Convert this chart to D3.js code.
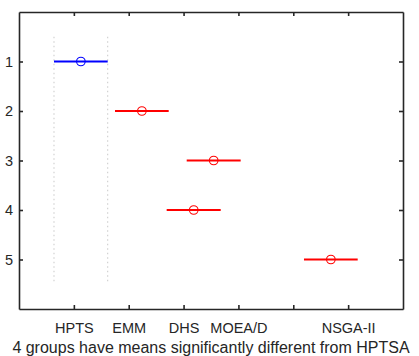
<!DOCTYPE html>
<html>
<head>
<meta charset="utf-8">
<script src="https://cdn.jsdelivr.net/npm/d3@7"></script>
<style>
  body { margin: 0; background: #fff; }
  text { font-family: "Liberation Sans", Arial, sans-serif; fill: #262626; }
</style>
</head>
<body>
<div id="chart"></div>
<script>
/* DATA */
const groups = [1, 2, 3, 4, 5];
const groupMeans = [1.128, 2.24, 3.549, 3.185, 5.685];
const ciLower = [0.638, 1.75, 3.057, 2.692, 5.195];
const ciUpper = [1.617, 2.729, 4.041, 3.677, 6.174];
const groupColors = ["#0000ff", "#ff0000", "#ff0000", "#ff0000", "#ff0000"];
const xTickValues = [1, 2, 3, 4, 5, 6];
const xTickLabels = ["HPTS", "EMM", "DHS", "MOEA/D", "", "NSGA-II"];
const xTitle = "4 groups have means significantly different from HPTSA";

/* CONSTANTS */
const width = 419;
const height = 356;
const margin = { top: 12, right: 16, bottom: 47, left: 19 };
const axisColor = "#262626";

const svg = d3.select("#chart")
  .append("svg")
  .attr("width", width)
  .attr("height", height);

// SCALES
const xScale = d3.scaleLinear()
  .domain([0, 7])
  .range([margin.left, width - margin.right]);

const yScale = d3.scaleLinear()
  .domain([0, 6])
  .range([margin.top, height - margin.bottom]);

// AXES (ticks point inward, like MATLAB)
const xAxisBottom = svg.append("g")
  .attr("transform", `translate(0, ${yScale(6)})`)
  .call(d3.axisBottom(xScale)
    .tickValues(xTickValues)
    .tickFormat((d, i) => xTickLabels[i])
    .tickSizeInner(-4)
    .tickSizeOuter(0)
    .tickPadding(13.5));

const xAxisTop = svg.append("g")
  .attr("transform", `translate(0, ${yScale(0)})`)
  .call(d3.axisTop(xScale)
    .tickValues(xTickValues)
    .tickFormat("")
    .tickSizeInner(-4)
    .tickSizeOuter(0));

const yAxisLeft = svg.append("g")
  .attr("transform", `translate(${xScale(0)}, 0)`)
  .call(d3.axisLeft(yScale)
    .tickValues(groups)
    .tickFormat(d3.format("d"))
    .tickSizeInner(-4)
    .tickSizeOuter(0)
    .tickPadding(6));

const yAxisRight = svg.append("g")
  .attr("transform", `translate(${xScale(7)}, 0)`)
  .call(d3.axisRight(yScale)
    .tickValues(groups)
    .tickFormat("")
    .tickSizeInner(-4)
    .tickSizeOuter(0));

[xAxisBottom, xAxisTop, yAxisLeft, yAxisRight].forEach(g => {
  g.select(".domain").attr("stroke", axisColor).attr("stroke-width", 1.6);
  g.selectAll(".tick line").attr("stroke", axisColor).attr("stroke-width", 1.6);
  g.selectAll(".tick text")
    .attr("fill", axisColor)
    .style("font-family", "'Liberation Sans', Arial, sans-serif")
    .style("font-size", "14.5px");
});

// comparison interval lines for the control group
svg.selectAll(".ref-line")
  .data([ciLower[0], ciUpper[0]])
  .join("line")
    .attr("class", "ref-line")
    .attr("x1", d => xScale(d))
    .attr("x2", d => xScale(d))
    .attr("y1", yScale(0.5))
    .attr("y2", yScale(5.5))
    .attr("stroke", "#c8c8c8")
    .attr("stroke-width", 1)
    .attr("stroke-dasharray", "1.5,3");

// interval bars
svg.selectAll(".ci")
  .data(groups)
  .join("line")
    .attr("class", "ci")
    .attr("x1", (d, i) => xScale(ciLower[i]))
    .attr("x2", (d, i) => xScale(ciUpper[i]))
    .attr("y1", d => yScale(d))
    .attr("y2", d => yScale(d))
    .attr("stroke", (d, i) => groupColors[i])
    .attr("stroke-width", 2);

// means
svg.selectAll(".mean")
  .data(groups)
  .join("circle")
    .attr("class", "mean")
    .attr("cx", (d, i) => xScale(groupMeans[i]))
    .attr("cy", d => yScale(d))
    .attr("r", 4.3)
    .attr("fill", "none")
    .attr("stroke", (d, i) => groupColors[i])
    .attr("stroke-width", 1.1);

// x title
svg.append("text")
  .attr("x", (xScale(0) + xScale(7)) / 2)
  .attr("y", 353)
  .attr("text-anchor", "middle")
  .style("font-size", "16px")
  .text(xTitle);
</script>
</body>
</html>
